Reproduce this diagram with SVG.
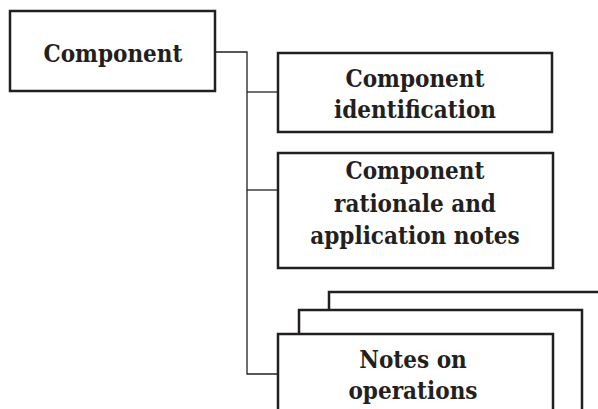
<svg xmlns="http://www.w3.org/2000/svg" width="598" height="409" viewBox="0 0 598 409">
<style>
.box{fill:#fff;stroke:#231f20;stroke-width:2.5}
.con{fill:none;stroke:#231f20;stroke-width:1.3}
.thick{stroke-width:2.5}
text{font-family:"DejaVu Serif Condensed","DejaVu Serif","Liberation Serif",serif;font-stretch:condensed;font-weight:bold;font-size:24px;fill:#231f20;text-anchor:middle}
</style>
<rect width="598" height="409" fill="#fff"/>
<g id="connectors">
<polyline class="con" points="215,52 247,52 247,374 278,374"/>
<line class="con" x1="247" y1="92" x2="278" y2="92"/>
<line class="con" x1="247" y1="190" x2="278" y2="190"/>
<line class="con thick" x1="582" y1="371" x2="598" y2="371"/>
<line class="con thick" x1="553" y1="389" x2="582" y2="389"/>
</g>
<g id="component">
<rect class="box" x="10" y="11" width="205" height="80"/>
<text x="113" y="62">Component</text>
</g>
<g id="identification">
<rect class="box" x="278" y="53" width="274" height="79"/>
<text x="415" y="87">Component</text>
<text x="415" y="118">identification</text>
</g>
<g id="rationale">
<rect class="box" x="278" y="153" width="275" height="115"/>
<text x="415" y="179">Component</text>
<text x="415" y="212">rationale and</text>
<text x="415" y="244">application notes</text>
</g>
<g id="operations">
<rect class="box" x="329" y="292" width="290" height="140"/>
<rect class="box" x="299" y="310" width="283" height="120"/>
<rect class="box" x="278" y="334" width="275" height="100"/>
<text x="413" y="368">Notes on</text>
<text x="413" y="399">operations</text>
</g>
</svg>
